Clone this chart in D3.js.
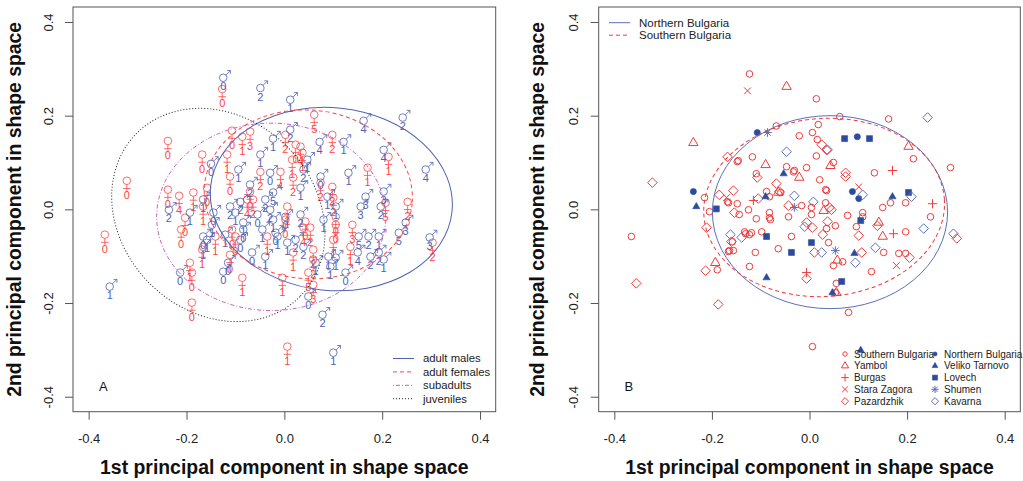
<!DOCTYPE html>
<html>
<head>
<meta charset="utf-8">
<script src="https://cdn.jsdelivr.net/npm/d3@7"></script>
<style>
  body { margin: 0; background: #fff; }
  text { font-family: "Liberation Sans", Arial, sans-serif; }
</style>
</head>
<body>
<svg id="chart" width="1023" height="481"></svg>
<script>
// ---- data (PC1, PC2, age-class label) ----
var tickValues = [-0.4, -0.2, 0, 0.2, 0.4];
var axisLimits = [-0.432, 0.432];

var malesA = [
  [-0.125,0.281,"0"],[-0.049,0.259,"2"],[0.012,0.234,"1"],[0.162,0.189,"4"],[0.242,0.196,"2"],
  [-0.023,0.151,"1"],[0.012,0.170,"2"],[0.072,0.144,"4"],[0.121,0.144,"1"],[0.203,0.127,"4"],
  [0.289,0.085,"4"],[-0.150,0.097,"0"],[-0.094,0.085,"1"],[-0.049,0.117,"1"],[-0.029,0.078,"0"],
  [0.047,0.106,"1"],[0.039,0.085,"2"],[0.074,0.070,"0"],[0.131,0.078,"1"],[0.033,0.046,"1"],
  [0.088,0.027,"1"],[0.105,0.006,"1"],[0.166,0.027,"3"],[0.156,0.006,"3"],[0.197,0.006,"2"],
  [0.203,0.038,"3"],[0.248,-0.028,"3"],[0.234,-0.050,"5"],[0.297,-0.060,"3"],[-0.236,-0.001,"2"],
  [-0.166,0.021,"1"],[-0.193,-0.007,"1"],[-0.145,-0.007,"0"],[-0.148,-0.033,"1"],[-0.166,-0.058,"0"],
  [-0.111,0.006,"2"],[-0.084,-0.028,"1"],[-0.090,0.016,"2"],[-0.100,-0.007,"1"],[-0.084,-0.043,"0"],
  [-0.090,-0.065,"0"],[-0.121,-0.054,"1"],[-0.158,-0.065,"1"],[-0.166,-0.080,"1"],[-0.115,-0.114,"0"],
  [-0.125,-0.133,"0"],[-0.213,-0.135,"0"],[-0.066,-0.092,"0"],[-0.039,-0.101,"1"],[-0.039,0.021,"2"],
  [-0.029,-0.001,"2"],[-0.023,-0.022,"1"],[-0.018,-0.050,"0"],[-0.023,0.036,"5"],[-0.014,-0.058,"1"],
  [0.002,-0.016,"0"],[0.033,-0.011,"2"],[0.080,-0.022,"1"],[0.152,-0.058,"5"],[0.172,-0.058,"2"],
  [0.193,-0.058,"1"],[0.150,-0.092,"4"],[0.176,-0.101,"2"],[0.193,-0.092,"2"],[0.203,-0.107,"1"],
  [0.039,-0.080,"2"],[0.023,-0.065,"2"],[0.006,-0.071,"1"],[0.090,-0.101,"1"],[0.105,-0.103,"1"],
  [0.125,-0.135,"0"],[0.094,-0.122,"1"],[0.064,-0.114,"1"],[0.049,-0.186,"0"],[0.078,-0.225,"2"],
  [0.100,-0.306,"1"],[-0.357,-0.165,"1"],[-0.070,0.053,"2"],[-0.055,-0.011,"0"],[-0.045,-0.043,"1"]
];

var femalesA = [
  [-0.127,0.257,"0"],[-0.238,0.146,"0"],[-0.322,0.061,"0"],[-0.107,0.168,"0"],[-0.086,0.155,"1"],
  [-0.070,0.166,"3"],[-0.168,0.117,"0"],[-0.117,0.117,"1"],[-0.111,0.070,"0"],[-0.049,0.080,"2"],
  [-0.008,0.080,"4"],[-0.238,0.042,"0"],[-0.215,0.029,"4"],[-0.186,0.036,"1"],[-0.158,0.046,"0"],
  [-0.166,0.006,"1"],[-0.203,-0.018,"0"],[-0.211,-0.043,"0"],[-0.107,-0.043,"0"],[-0.070,0.038,"0"],
  [-0.076,0.021,"4"],[-0.064,0.021,"2"],[-0.100,-0.058,"0"],[-0.141,-0.058,"1"],[-0.168,-0.086,"1"],
  [-0.111,-0.097,"0"],[-0.193,-0.114,"1"],[-0.189,-0.135,"0"],[-0.086,-0.146,"1"],[-0.189,-0.199,"0"],
  [-0.035,-0.058,"1"],[-0.004,-0.146,"1"],[0.002,-0.022,"0"],[0.061,0.202,"5"],[0.002,0.159,"2"],
  [0.023,0.138,"0"],[0.033,0.134,"4"],[0.037,0.121,"1"],[0.098,0.159,"2"],[0.213,0.112,"1"],
  [0.016,0.106,"1"],[0.018,0.068,"2"],[0.074,0.057,"2"],[0.170,0.089,"1"],[0.098,0.048,"2"],
  [0.100,0.025,"2"],[0.207,0.014,"5"],[0.252,0.016,"2"],[0.006,0.006,"1"],[0.043,-0.026,"0"],
  [0.039,-0.039,"4"],[0.053,-0.039,"2"],[0.105,-0.016,"0"],[0.105,-0.033,"0"],[0.139,-0.033,"3"],
  [0.100,-0.065,"1"],[0.135,-0.080,"1"],[0.018,-0.092,"1"],[0.059,-0.086,"2"],[0.059,-0.107,"2"],
  [0.049,-0.135,"5"],[0.059,-0.161,"3"],[0.303,-0.071,"2"],[0.006,-0.293,"1"],[-0.367,-0.054,"0"]
];

// ellipses: [centre PC1, centre PC2, semi-axis PC1, semi-axis PC2, tilt deg]
var ellipseMales     = [0.096, 0.022, 0.248, 0.195, 6];
var ellipseFemales   = [0.049, 0.032, 0.213, 0.180, 5];
var ellipseSubadults = [-0.027, -0.016, 0.234, 0.200, 0];
var ellipseJuveniles = [-0.135, -0.012, 0.236, 0.207, 45];
var legendA = ["adult males", "adult females", "subadults", "juveniles"];

// panel B populations
var southernBulgaria = [
  [-0.123,0.289],[-0.068,0.178],[-0.117,0.112],[-0.148,0.102],[-0.109,0.076],[-0.088,0.038],
  [-0.215,0.025],[-0.205,-0.005],[-0.168,0.016],[-0.148,0.012],[-0.144,-0.011],[-0.125,-0.001],
  [-0.109,-0.020],[-0.082,-0.018],[-0.365,-0.058],[-0.133,-0.048],[-0.119,-0.050],[-0.189,-0.129],
  [-0.123,-0.122],[-0.164,-0.088],[-0.156,-0.088],[-0.111,-0.092],[0.014,0.236],[-0.021,0.157],
  [0.006,0.164],[0.016,0.149],[0.018,0.181],[0.014,0.114],[-0.146,0.104],[-0.047,0.091],
  [-0.031,0.083],[-0.006,0.089],[0.021,0.063],[-0.082,0.027],[-0.059,0.036],[0.033,0.042],
  [-0.016,0.008],[0.004,0.004],[-0.043,-0.016],[-0.080,-0.022],[-0.166,0.014],[-0.098,-0.048],
  [-0.037,-0.058],[-0.064,-0.084],[-0.166,-0.090],[-0.123,-0.054],[-0.158,-0.069],[0.062,0.198],
  [0.162,0.193],[0.213,0.108],[0.289,0.089],[0.049,0.100],[-0.033,0.080],[0.133,0.078],
  [0.035,0.040],[0.197,0.014],[0.166,0.014],[0.150,0.004],[0.248,-0.016],[0.078,-0.013],
  [0.109,-0.007],[0.053,-0.035],[0.197,-0.048],[0.035,-0.041],[0.004,-0.011],[0.109,-0.016],
  [0.096,-0.037],[0.152,-0.092],[0.183,-0.094],[0.197,-0.094],[0.127,-0.133],[0.068,-0.112],
  [0.049,-0.120],[0.039,-0.071],[0.055,-0.158],[0.053,-0.178],[0.033,0.014],[0.080,-0.220],
  [0.006,-0.293],[-0.082,-0.007],[-0.131,-0.052]
];
var yambol = [
  [-0.238,0.142],[-0.090,0.095],[-0.193,-0.114],[-0.021,0.068],[-0.047,0.262],[0.203,0.134],
  [0.043,0.093],[-0.064,0.036],[0.029,-0.003],[0.142,-0.028],[0.150,-0.058],[0.057,-0.109],[0.055,-0.178]
];
var burgas = [[0.170,0.083],[0.252,0.012],[0.172,-0.052],[-0.006,-0.135],[-0.115,0.019]];
var staraZagora = [[-0.127,0.253],[0.101,0.048],[0.178,-0.120],[-0.170,0.025]];
var pazardzhik = [
  [-0.322,0.057],[-0.168,0.112],[-0.107,0.068],[-0.156,0.040],[-0.185,0.031],[-0.154,-0.007],
  [-0.105,0.023],[-0.068,0.055],[-0.211,-0.039],[-0.355,-0.158],[-0.187,-0.203],[-0.213,-0.131],
  [-0.160,-0.069],[0.025,0.138],[0.035,0.127],[-0.062,0.038],[-0.043,0.008],[-0.006,-0.028],
  [0.006,-0.039],[0.027,-0.054],[0.010,-0.092],[-0.006,-0.148],[0.074,0.078],[0.074,0.070],
  [0.139,-0.035],[0.045,-0.001],[0.302,-0.062],[0.101,-0.056],[0.107,-0.092],[0.205,-0.103],
  [0.041,0.004],[0.037,-0.026]
];
var northernBulgaria = [[-0.238,0.038],[-0.107,0.164],[0.098,0.155],[0.088,0.038],[0.101,0.023]];
var velikoTarnovo = [[-0.232,0.006],[-0.090,0.027],[-0.053,0.076],[-0.088,-0.146],[0.170,0.027],
  [0.092,-0.094],[0.047,-0.178],[0.105,-0.301]];
var lovech = [[-0.191,0.001],[-0.088,-0.058],[0.072,0.151],[0.123,0.151],[0.203,0.036],
  [0.105,-0.024],[0.004,-0.071],[-0.037,-0.092],[0.066,-0.154]];
var shumen = [[-0.086,0.164],[-0.031,0.004],[0.053,-0.088]];
var kavarna = [[-0.162,-0.054],[-0.139,-0.060],[-0.047,0.123],[-0.031,0.029],[0.008,0.016],
  [-0.010,-0.037],[0.025,-0.092],[0.242,0.196],[0.037,0.127],[0.109,0.031],[0.209,0.027],
  [0.234,-0.041],[0.295,-0.052],[0.135,-0.082],[0.094,-0.114]];

var ellipseNorthern = [0.042, -0.006, 0.241, 0.206, 0];
var ellipseSouthern = [0.030, 0.004, 0.247, 0.190, -4];
var legendRegions = ["Northern Bulgaria", "Southern Bulgaria"];
var legendPopsSouth = ["Southern Bulgaria", "Yambol", "Burgas", "Stara Zagora", "Pazardzhik"];
var legendPopsNorth = ["Northern Bulgaria", "Veliko Tarnovo", "Lovech", "Shumen", "Kavarna"];

// ---- drawing ----
var svg = d3.select("#chart");
var top0 = 7, bottom0 = 411.7;
var fmt = function(d){ return d.toFixed(1); };

var BLUE = "#4f62b2", RED = "#ff4545", MAG = "#c25ec2";
var RED_B = "#f03a3a", BLUE_F = "#2d4b9d", BLUE_O = "#5b70bb";

function panel(x0, x1, yTitleX, letter) {
  var x = d3.scaleLinear().domain(axisLimits).range([x0, x1]);
  var y = d3.scaleLinear().domain(axisLimits).range([bottom0, top0]);
  var g = svg.append("g");

  var xa = g.append("g")
    .attr("transform", "translate(0," + bottom0 + ")")
    .call(d3.axisBottom(x).tickValues(tickValues).tickSize(8).tickPadding(14).tickFormat(fmt));
  var ya = g.append("g")
    .attr("transform", "translate(" + x0 + ",0)")
    .call(d3.axisLeft(y).tickValues(tickValues).tickSize(8).tickFormat(fmt));
  [xa, ya].forEach(function(a){
    a.select(".domain").remove();
    a.selectAll("line").attr("stroke", "#555");
    a.selectAll("text").attr("fill", "#222").style("font-size", "13px")
      .style("font-family", "'Liberation Sans', Arial, sans-serif");
  });
  ya.selectAll("text")
    .attr("transform", "rotate(-90)")
    .attr("x", 0).attr("y", -25).attr("dy", "0.35em")
    .attr("text-anchor", "middle");

  g.append("rect")
    .attr("x", x0).attr("y", top0)
    .attr("width", x1 - x0).attr("height", bottom0 - top0)
    .attr("fill", "none").attr("stroke", "#555");

  g.append("text")
    .attr("x", (x0 + x1) / 2).attr("y", 474)
    .attr("text-anchor", "middle")
    .style("font-size", "19.4px").style("font-weight", "bold").attr("fill", "#111")
    .text("1st principal component in shape space");
  g.append("text")
    .attr("transform", "translate(" + yTitleX + "," + ((top0 + bottom0) / 2) + ") rotate(-90)")
    .attr("text-anchor", "middle")
    .style("font-size", "19.4px").style("font-weight", "bold").attr("fill", "#111")
    .text("2nd principal component in shape space");

  g.append("text")
    .attr("x", x(-0.37)).attr("y", y(-0.38) + 4)
    .attr("text-anchor", "middle")
    .style("font-size", "13px").attr("fill", "#111")
    .text(letter);

  return {g: g, x: x, y: y};
}

function ellipse(p, e, color, dash) {
  var cx = p.x(e[0]), cy = p.y(e[1]);
  var rx = p.x(e[0] + e[2]) - cx, ry = cy - p.y(e[1] + e[3]);
  p.g.append("ellipse")
    .attr("cx", 0).attr("cy", 0).attr("rx", rx).attr("ry", ry)
    .attr("transform", "translate(" + cx + "," + cy + ") rotate(" + e[4] + ")")
    .attr("fill", "none").attr("stroke", color).attr("stroke-width", 1)
    .attr("stroke-dasharray", dash);
}

// ---- panel A ----
var A = panel(73, 495.7, 21, "A");
var maleGlyph = "M3.8,0A3.8,3.8 0 1,1 -3.8,0A3.8,3.8 0 1,1 3.8,0M2.7,-2.7L7.2,-7.2M3.9,-7.2H7.2V-3.9";
var femaleGlyph = "M3.8,0A3.8,3.8 0 1,1 -3.8,0A3.8,3.8 0 1,1 3.8,0M0,3.8V11.6M-3.7,7.7H3.7";

var fg = A.g.append("g");
fg.selectAll("path").data(femalesA).enter().append("path")
  .attr("d", femaleGlyph)
  .attr("transform", function(d){ return "translate(" + A.x(d[0]) + "," + A.y(d[1]) + ")"; })
  .attr("fill", "none").attr("stroke", RED).attr("stroke-opacity", 0.8).attr("stroke-width", 1);
fg.selectAll("text").data(femalesA).enter().append("text")
  .attr("x", function(d){ return A.x(d[0]); })
  .attr("y", function(d){ return A.y(d[1]) + 18.5; })
  .attr("text-anchor", "middle").style("font-size", "11px")
  .attr("fill", RED).text(function(d){ return d[2]; });

var mg = A.g.append("g");
mg.selectAll("path").data(malesA).enter().append("path")
  .attr("d", maleGlyph)
  .attr("transform", function(d){ return "translate(" + A.x(d[0]) + "," + A.y(d[1]) + ")"; })
  .attr("fill", "none").attr("stroke", BLUE).attr("stroke-opacity", 0.8).attr("stroke-width", 1);
mg.selectAll("text").data(malesA).enter().append("text")
  .attr("x", function(d){ return A.x(d[0]); })
  .attr("y", function(d){ return A.y(d[1]) + 12.5; })
  .attr("text-anchor", "middle").style("font-size", "11px")
  .attr("fill", BLUE).text(function(d){ return d[2]; });

ellipse(A, ellipseMales, BLUE, null);
ellipse(A, ellipseFemales, RED, "4,3");
ellipse(A, ellipseSubadults, MAG, "1,2,4,2");
ellipse(A, ellipseJuveniles, "#222", "1,2");

var styleA = [[BLUE, null], [RED, "4,3"], [MAG, "1,2,4,2"], ["#222", "1,2"]];
var lgA = A.g.append("g").selectAll("g").data(legendA).enter().append("g")
  .attr("transform", function(d, i){ return "translate(393," + (358.5 + i * 13.4) + ")"; });
lgA.append("line").attr("x1", 0).attr("x2", 21)
  .attr("stroke", function(d, i){ return styleA[i][0]; })
  .attr("stroke-dasharray", function(d, i){ return styleA[i][1]; });
lgA.append("text").attr("x", 30).attr("dy", "0.35em")
  .style("font-size", "11.3px").attr("fill", "#222").text(function(d){ return d; });

// ---- panel B ----
var B = panel(598.7, 1020.3, 544, "B");

var shapes = {
  circle: function(s){ return "M" + s + ",0A" + s + "," + s + " 0 1,1 " + (-s) + ",0A" + s + "," + s + " 0 1,1 " + s + ",0"; },
  triangle: function(s){ return "M0," + (-1.15 * s) + "L" + s + "," + (0.58 * s) + "L" + (-s) + "," + (0.58 * s) + "Z"; },
  plus: function(s){ return "M" + (-s) + ",0H" + s + "M0," + (-s) + "V" + s; },
  cross: function(s){ return "M" + (-s) + "," + (-s) + "L" + s + "," + s + "M" + (-s) + "," + s + "L" + s + "," + (-s); },
  diamond: function(s){ return "M0," + (-s) + "L" + s + ",0L0," + s + "L" + (-s) + ",0Z"; },
  square: function(s){ return "M" + (-s) + "," + (-s) + "H" + s + "V" + s + "H" + (-s) + "Z"; },
  asterisk: function(s){ var t = s * 0.72; return "M" + (-s) + ",0H" + s + "M0," + (-s) + "V" + s +
    "M" + (-t) + "," + (-t) + "L" + t + "," + t + "M" + (-t) + "," + t + "L" + t + "," + (-t); }
};
// [data, shape, size, colour, filled, legendSize]
var groupsB = [
  [southernBulgaria, "circle", 3.3, RED_B, false, 2.2],
  [yambol, "triangle", 4.7, RED_B, false, 3.6],
  [burgas, "plus", 4.6, RED_B, false, 3.8],
  [staraZagora, "cross", 3.4, RED_B, false, 2.8],
  [pazardzhik, "diamond", 4.8, RED_B, false, 3.6],
  [northernBulgaria, "circle", 3.1, BLUE_F, true, 2.1],
  [velikoTarnovo, "triangle", 3.6, BLUE_F, true, 2.9],
  [lovech, "square", 3.0, BLUE_F, true, 2.5],
  [shumen, "asterisk", 4.3, BLUE_O, false, 3.6],
  [kavarna, "diamond", 4.8, BLUE_O, false, 3.6]
];

groupsB.forEach(function(gr){
  B.g.append("g").selectAll("path").data(gr[0]).enter().append("path")
    .attr("d", shapes[gr[1]](gr[2]))
    .attr("transform", function(d){ return "translate(" + B.x(d[0]) + "," + B.y(d[1]) + ")"; })
    .attr("fill", gr[4] ? gr[3] : "none")
    .attr("stroke", gr[3]).attr("stroke-width", gr[4] ? 0.6 : 1);
});

ellipse(B, ellipseNorthern, BLUE_O, null);
ellipse(B, ellipseSouthern, RED_B, "4,3");

var lgB = B.g.append("g").selectAll("g").data(legendRegions).enter().append("g")
  .attr("transform", function(d, i){ return "translate(609," + (22.7 + i * 12.5) + ")"; });
lgB.append("line").attr("x1", 0).attr("x2", 21)
  .attr("stroke", function(d, i){ return i === 0 ? BLUE_O : RED_B; })
  .attr("stroke-dasharray", function(d, i){ return i === 0 ? null : "4,3"; });
lgB.append("text").attr("x", 30).attr("dy", "0.35em")
  .style("font-size", "11.5px").attr("fill", "#222").text(function(d){ return d; });

[legendPopsSouth, legendPopsNorth].forEach(function(names, col){
  var rows = B.g.append("g").selectAll("g").data(names).enter().append("g")
    .attr("transform", function(d, i){ return "translate(" + (col === 0 ? 845 : 935) + "," + (354 + i * 11.8) + ")"; });
  rows.append("path")
    .attr("d", function(d, i){ var gr = groupsB[col * 5 + i]; return shapes[gr[1]](gr[5]); })
    .attr("fill", function(d, i){ var gr = groupsB[col * 5 + i]; return gr[4] ? gr[3] : "none"; })
    .attr("stroke", function(d, i){ return groupsB[col * 5 + i][3]; })
    .attr("stroke-width", function(d, i){ return groupsB[col * 5 + i][4] ? 0.6 : 1; });
  rows.append("text").attr("x", 9).attr("dy", "0.35em")
    .style("font-size", "10px").attr("fill", "#222").text(function(d){ return d; });
});
</script>
</body>
</html>
